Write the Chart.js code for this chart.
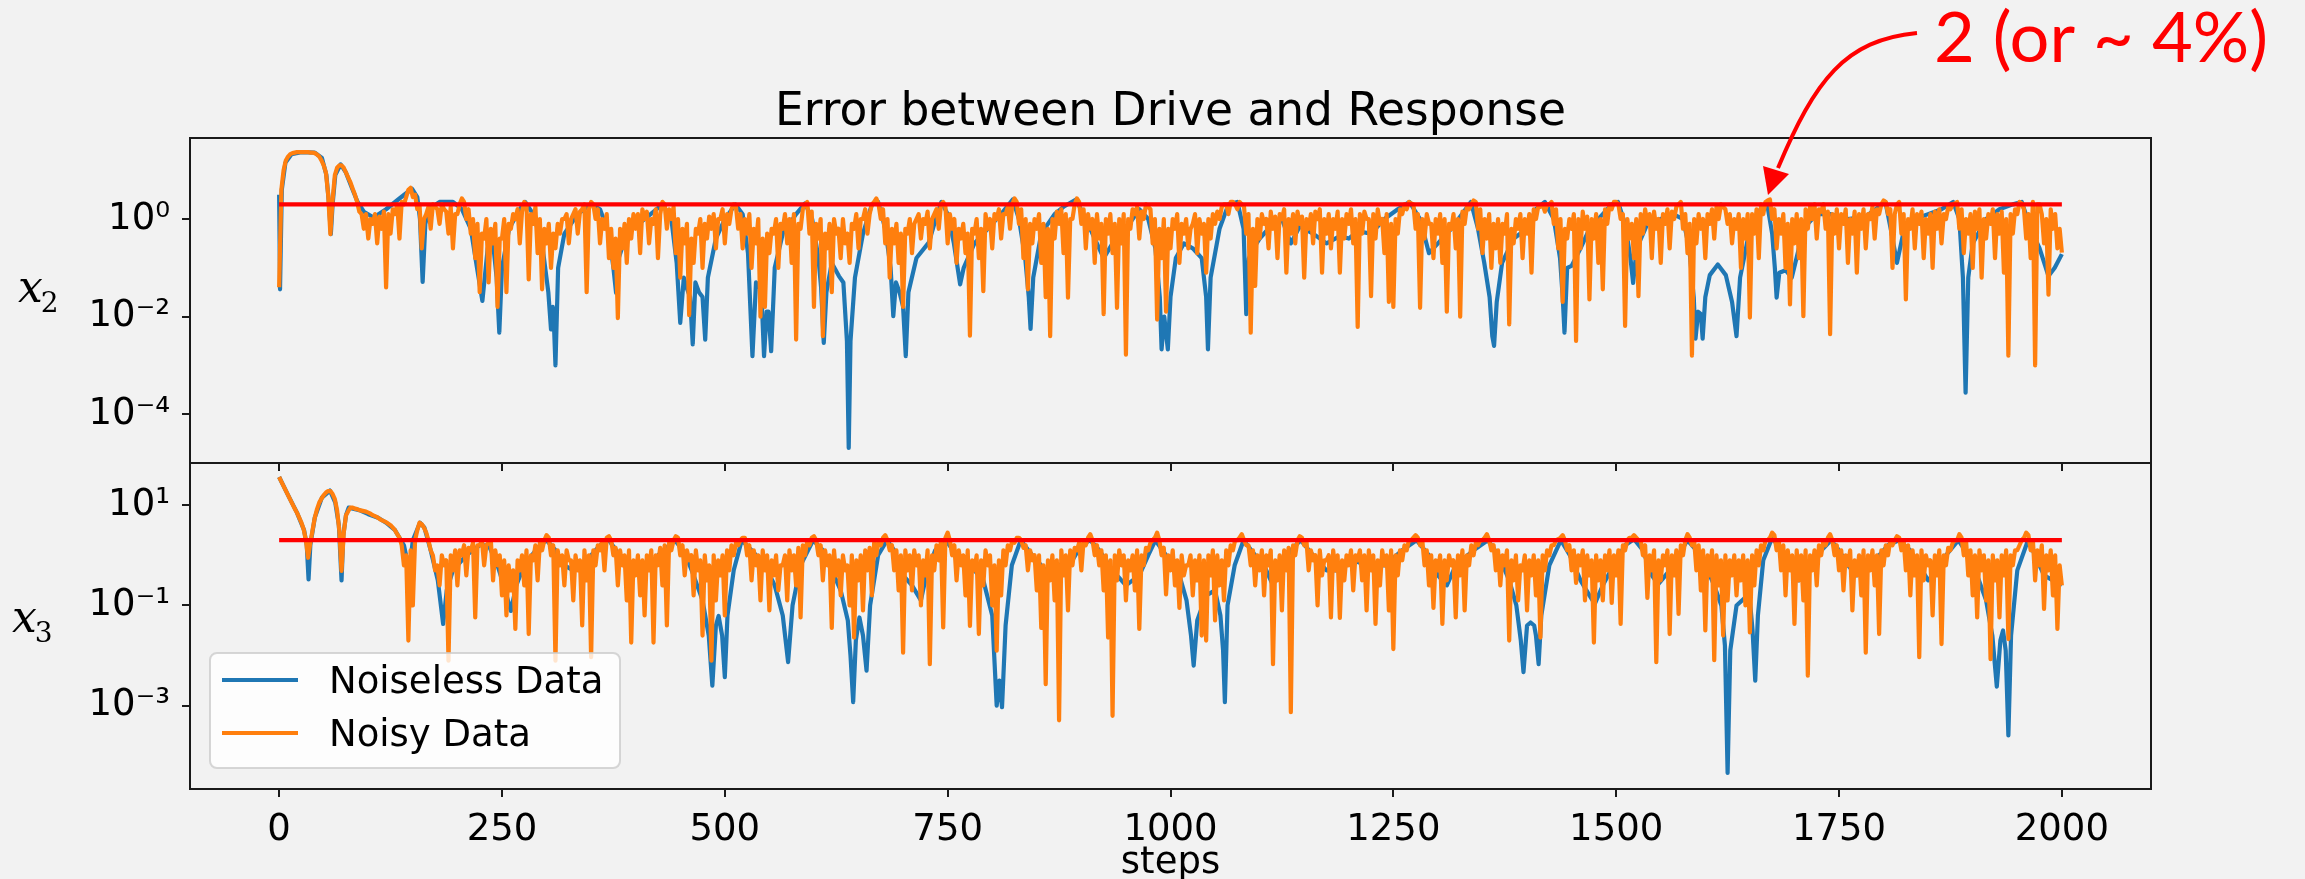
<!DOCTYPE html>
<html>
<head>
<meta charset="utf-8">
<script src="https://cdn.jsdelivr.net/npm/chart.js@4.4.1/dist/chart.umd.min.js"></script>
<style>
html, body { margin: 0; padding: 0; background: #f2f2f2; }
body { width: 2305px; height: 879px; position: relative; overflow: hidden; }
#panelTop { position: absolute; left: 0; top: 0; }
#panelBottom { position: absolute; left: 0; top: 440px; }
</style>
</head>
<body>
<canvas id="panelTop" width="2305" height="480"></canvas>
<canvas id="panelBottom" width="2305" height="439"></canvas>
<script>
// ---- DATA (stored as log10 of the error) ----
const titleText = 'Error between Drive and Response';
const xAxisLabel = 'steps';
const noteText = '2 (or ~ 4%)';
const seriesLabels = ['Noiseless Data', 'Noisy Data'];

const xTicks = [0, 250, 500, 750, 1000, 1250, 1500, 1750, 2000];
const x2TickValues = [1e-4, 1e-2, 1];
const x2TickLabels = ['10⁻⁴', '10⁻²', '10⁰'];
const x3TickValues = [1e-3, 1e-1, 10];
const x3TickLabels = ['10⁻³', '10⁻¹', '10¹'];

const thresholdSteps = [0, 2000];
const thresholdValue = 2;

// noisy series: values at steps 0, 5, ... 2000 (lower part of the band, spikes)
// and at steps 2.5, 7.5, ... 1997.5 (upper edge of the band)
const noisyEvery = 5;

const x2NoisyLog = [
  -1.4, 1.0, 1.28, 1.35, 1.37, 1.37, 1.37, 1.36, 1.35, 1.28,
  1.1, 0.5, 0.4, 1.05, 1.1, 0.95, 0.75, 0.5, 0.15, -0.2,
  -0.4, -0.1, -0.5, -0.2, -1.4, -0.3, 0.1, -0.4, 0.3, 0.6,
  0.45, 0.2, -0.6, 0.1, -0.2, 0.25, -0.1, 0.2, -0.3, -0.6,
  0.1, 0.42, 0.0, -0.3, -0.8, -1.5, -0.4, -1.3, -0.5, -1.8,
  -0.4, -1.5, -0.2, 0.0, -0.5, 0.35, -1.24, -0.1, -0.7, -1.44,
  -0.5, -1.0, -0.6, -0.3, 0.0, -0.5, 0.1, -0.3, 0.2, -1.5,
  0.35, 0.0, -0.5, -0.2, -0.8, -1.0, -2.03, -0.6, -0.9, -0.4,
  -0.2, -0.7, 0.0, -0.5, -0.1, -0.8, 0.35, -0.2, 0.0, -0.7,
  -1.2, -0.5, -1.97, -0.9, -0.3, -1.0, -0.4, -0.2, -0.6, 0.0,
  -0.5, -0.1, 0.3, -0.2, -0.6, -0.3, -1.0, -0.5, -2.0, -1.8,
  -0.7, -0.3, -1.0, -0.2, -0.5, -0.9, -2.47, -0.2, 0.3, -0.3,
  -1.8, -0.4, -2.4, -0.6, -1.5, -0.3, -0.8, -0.5, -0.9, -0.2,
  -0.6, 0.0, -0.3, 0.3, 0.42, 0.0, -0.5, -1.2, -0.5, -0.9,
  -1.8, -0.3, -0.7, 0.0, -0.4, -0.1, -0.6, 0.1, -0.2, 0.35,
  -0.5, -0.2, -0.9, -0.4, -0.7, -2.39, -0.3, -0.8, -1.48, -0.2,
  -0.6, 0.0, -0.4, 0.1, -0.2, 0.42, -0.1, -0.8, -1.44, -0.5,
  -0.2, -0.9, -1.6, -2.4, -0.4, -0.1, -0.7, -1.61, 0.0, 0.42,
  -0.1, -0.6, -0.2, -0.9, -0.4, -1.95, -0.3, -0.7, -1.82, -0.5,
  -2.78, -0.2, 0.1, -0.4, 0.0, 0.25, -0.5, -2.06, -0.8, -1.9,
  -0.6, -0.2, -0.9, -0.3, -0.6, -0.1, -0.7, -0.3, -1.1, -0.4,
  -0.1, 0.0, 0.3, 0.1, 0.35, 0.2, 0.3, -0.3, -2.33, -1.37,
  -0.4, -0.1, -0.6, -0.2, -0.8, 0.0, -1.1, -0.3, -0.5, -0.1,
  -1.2, -0.2, -0.5, 0.0, -1.1, -0.3, -0.6, -0.2, -1.1, -0.4,
  -0.1, -0.5, -2.21, -0.3, 0.0, -1.58, -0.4, -0.1, -0.7, -1.7,
  -1.8, -0.3, 0.1, 0.2, 0.32, -0.2, -1.82, -0.4, -0.1, -0.8,
  -0.3, -0.9, -1.9, -0.2, -0.6, -2.0, -0.1, 0.2, 0.38, -0.2,
  -0.7, -0.4, -1.0, -0.6, -0.9, -0.3, -2.16, -0.5, -0.2, -0.8,
  -0.3, -1.1, 0.0, 0.25, 0.15, 0.3, -0.1, -0.6, -1.7, -0.4,
  -0.2, -2.5, -0.6, -0.2, -1.65, -0.4, -0.9, -1.44, -0.1, 0.2,
  0.35, 0.0, -2.19, -0.4, -0.8, -1.58, -0.3, -0.1, -0.8, -0.2,
  -0.9, -0.1, -0.6, 0.0, 0.3, -0.2, -0.7, -2.8, -0.5, -0.2,
  -0.8, -0.1, -0.4, 0.0, 0.25, -0.1, -0.5, -0.2, -1.0, -0.4,
  -2.02, -0.3, -0.8, 0.1, 0.38, 0.0, -0.6, -0.3, -1.0, -1.75,
  -0.5, -0.8, -1.99, -0.2, 0.0, -0.4, 0.15, -0.2, -2.36, -0.3,
  -0.6, -0.1, -0.9, -0.3, -1.1, -0.2, -0.6, 0.0, -0.4, 0.1,
  0.38, 0.1, -1.0, 0.3, -0.3, -1.65, -0.2, -0.6, -0.1, -0.8,
  -0.3, -1.0, -0.2, -0.5, 0.0, 0.2, 0.32, -0.2, -0.7, -0.3,
  -1.0, -0.2, -1.2, -0.4, -0.1, -0.8, -0.3, -1.1, -2.8, -0.3,
  0.1, 0.32, -0.4, -0.8, -3.0, 0.3, -0.5, -1.55, -0.2, -0.6, -0.69
];

const x2NoisyMid = [
  0.6, 1.2, 1.33, 1.36, 1.37, 1.37, 1.37, 1.36, 1.32, 1.2,
  0.95, -0.31, 0.9, 1.1, 1.05, 0.85, 0.62, 0.35, 0.1, 0.1,
  0.0, 0.1, 0.05, 0.15, 0.1, 0.2, 0.3, 0.35, 0.45, 0.64,
  0.5, 0.3, 0.0, 0.25, 0.3, 0.2, 0.3, 0.15, 0.25, 0.1,
  0.3, 0.35, 0.2, 0.0, -0.1, -0.3, 0.0, -0.2, -0.1, -0.4,
  0.0, -0.1, 0.1, 0.2, 0.15, 0.3, 0.1, 0.25, 0.0, -0.2,
  -0.1, -0.3, -0.1, 0.0, 0.1, 0.0, 0.2, 0.15, 0.3, 0.2,
  0.3, 0.2, 0.0, 0.1, -0.2, -0.4, -0.2, -0.1, 0.0, 0.1,
  0.1, 0.2, 0.15, 0.0, 0.2, 0.1, 0.3, 0.2, 0.25, 0.0,
  -0.2, -0.1, -0.4, -0.2, 0.0, -0.1, 0.05, 0.1, 0.0, 0.2,
  0.1, 0.2, 0.25, 0.1, 0.0, 0.1, -0.2, 0.0, -0.4, -0.3,
  -0.2, 0.0, -0.1, 0.1, 0.0, 0.1, -0.1, 0.2, 0.35, 0.15,
  -0.1, 0.0, -0.3, -0.1, 0.0, -0.2, 0.0, -0.3, -0.1, 0.1,
  0.0, 0.2, 0.1, 0.35, 0.3, 0.2, 0.0, -0.2, -0.1, -0.3,
  -0.2, 0.0, -0.1, 0.1, 0.0, 0.15, 0.0, 0.2, 0.3, 0.25,
  0.1, 0.0, -0.2, -0.1, -0.3, -0.2, 0.0, -0.2, 0.1, 0.0,
  0.1, 0.2, 0.1, 0.25, 0.3, 0.35, 0.2, 0.0, -0.1, 0.0,
  0.1, -0.1, -0.2, 0.0, 0.15, 0.2, 0.1, 0.0, 0.3, 0.35,
  0.2, 0.1, 0.0, 0.1, -0.1, 0.0, 0.1, -0.1, 0.0, 0.1,
  0.0, 0.2, 0.25, 0.15, 0.3, 0.2, 0.0, -0.2, 0.0, -0.2,
  0.0, 0.1, -0.1, 0.0, -0.2, 0.1, 0.0, -0.1, 0.0, 0.1,
  0.15, 0.25, 0.3, 0.35, 0.3, 0.35, 0.25, 0.1, -0.2, 0.0,
  0.1, 0.0, 0.15, 0.05, 0.1, 0.2, 0.0, 0.1, 0.15, 0.05,
  0.0, 0.1, 0.15, 0.2, 0.0, 0.1, 0.0, 0.15, 0.0, 0.1,
  0.2, 0.0, 0.1, 0.15, 0.0, 0.1, 0.2, 0.0, 0.1, -0.1,
  0.0, 0.2, 0.3, 0.35, 0.3, 0.1, 0.0, 0.1, -0.1, 0.0,
  0.1, 0.0, -0.1, 0.1, 0.0, 0.15, 0.25, 0.3, 0.35, 0.2,
  0.0, 0.1, -0.1, 0.0, -0.1, 0.1, -0.2, 0.0, 0.1, 0.0,
  0.1, 0.2, 0.25, 0.3, 0.3, 0.35, 0.2, 0.0, -0.2, 0.0,
  0.1, 0.0, 0.15, 0.05, 0.0, 0.1, 0.0, 0.2, 0.3, 0.35,
  0.3, 0.1, 0.0, -0.1, 0.0, 0.1, 0.2, 0.1, 0.15, 0.0,
  0.1, 0.2, 0.15, 0.25, 0.35, 0.1, -0.1, 0.0, 0.1, 0.0,
  0.1, 0.2, 0.25, 0.3, 0.2, 0.1, 0.0, 0.1, 0.0, 0.1,
  0.1, 0.2, 0.3, 0.35, 0.4, 0.2, 0.0, 0.1, -0.1, 0.0,
  0.1, 0.0, 0.2, 0.25, 0.3, 0.2, 0.3, 0.15, 0.1, 0.2,
  0.1, 0.2, 0.0, 0.15, 0.1, 0.2, 0.1, 0.25, 0.2, 0.3,
  0.35, 0.2, 0.1, 0.35, 0.1, 0.0, 0.2, 0.1, 0.15, 0.0,
  0.1, 0.15, 0.2, 0.1, 0.25, 0.3, 0.35, 0.2, 0.0, 0.1,
  0.15, 0.2, 0.0, 0.1, 0.2, 0.1, 0.15, 0.0, 0.1, 0.2,
  0.35, 0.2, 0.1, 0.35, 0.3, 0.1, 0.0, 0.2, 0.1, -0.2
];

const x3NoisyLog = [
  1.56, 1.38, 1.2, 1.02, 0.85, 0.65, 0.3, 0.25, 0.75, 1.05,
  1.2, 1.28, 1.22, 0.9, -0.31, 0.8, 0.95, 0.93, 0.9, 0.88,
  0.85, 0.8, 0.76, 0.7, 0.66, 0.6, 0.5, 0.35, -0.2, -1.7,
  -1.0, 0.5, 0.62, 0.45, 0.1, -0.3, -0.6, -0.2, -2.1, -0.3,
  -0.6, 0.0, -0.4, 0.1, -1.24, 0.2, -0.2, 0.25, -0.5, -0.2,
  -0.8, -1.2, -0.7, -1.47, -0.3, -0.6, -1.57, -0.1, -0.5, 0.1,
  0.4, 0.0, -2.1, -0.2, -0.6, -0.1, -0.9, -0.3, -1.4, -0.5,
  -2.03, -0.2, 0.1, -0.3, 0.38, 0.0, -0.6, -0.2, -0.9, -1.74,
  -0.4, -0.8, -1.2, -0.3, -1.74, -0.2, -0.6, -1.4, 0.1, 0.38,
  0.0, -0.4, -0.1, -0.8, -0.3, -1.6, -0.5, -2.1, -0.9, -0.4,
  -1.2, -0.3, 0.0, 0.2, 0.35, 0.0, -0.5, -0.2, -0.9, -0.3,
  -1.1, -0.4, -0.7, -0.2, -0.9, -0.3, -0.6, -1.24, 0.0, 0.2,
  0.38, 0.0, -0.5, -0.2, -1.45, -0.4, -0.8, -0.3, -1.0, -1.64,
  -0.5, -1.1, -0.3, -0.8, 0.0, 0.2, 0.4, 0.1, -0.3, -0.7,
  -1.94, -0.3, -0.7, -0.2, -1.0, -0.4, -2.17, -0.3, -0.1, -1.44,
  0.45, 0.0, -0.5, -0.2, -0.8, -1.41, -0.3, -1.57, -0.6, -0.2,
  -1.0, -1.9, -0.8, -0.2, 0.1, 0.25, 0.35, 0.15, -0.3, -0.1,
  -0.7, -1.45, -2.57, -0.5, -0.9, -3.29, -0.4, -1.1, -0.2, 0.1,
  -0.3, 0.2, 0.42, 0.0, -0.2, -0.7, -1.64, -3.2, -0.5, -0.2,
  -0.9, -0.3, -0.7, -1.47, -0.2, 0.1, 0.3, 0.45, 0.0, -0.78,
  -0.3, -0.6, -1.05, -0.4, -0.2, -0.8, -0.5, -1.6, -1.7, -0.4,
  -1.3, -0.6, -0.9, -0.2, 0.1, 0.3, 0.42, 0.2, -0.2, -0.6,
  -0.3, -0.8, -0.2, -2.17, -0.5, -1.1, -0.3, -3.13, 0.0, 0.38,
  0.2, -0.3, -0.1, -1.0, -0.4, -0.1, -1.24, -0.3, -1.25, -0.5,
  -0.2, -0.7, -0.1, -0.5, -1.1, -0.3, -1.37, -0.6, -0.2, -1.1,
  -1.87, -0.4, -0.1, 0.1, 0.3, 0.4, 0.2, -0.2, -0.6, -1.05,
  -0.3, -1.37, -0.5, -0.2, -1.24, -0.4, -1.1, -0.2, 0.0, 0.2,
  0.3, 0.42, 0.1, -0.3, -0.6, -0.2, -1.7, -0.5, -0.9, -0.3,
  -1.1, -0.4, -0.8, -1.64, -0.3, 0.0, 0.2, 0.32, 0.4, 0.1,
  -0.3, -0.55, -0.2, -0.9, -0.4, -1.74, -0.5, -0.9, -0.3, -0.95,
  -0.4, -1.37, 0.1, 0.35, 0.4, 0.3, 0.0, -0.85, -0.3, -2.13,
  -0.5, -0.2, -1.57, -0.4, -1.17, 0.0, 0.42, 0.2, -0.3, -0.7,
  -1.5, -0.4, -2.09, -0.6, -1.6, -0.9, -0.4, -0.8, -0.5, -1.0,
  -1.54, -0.6, -0.2, 0.1, 0.3, 0.45, 0.1, -0.3, -0.8, -0.3,
  -1.37, -0.5, -0.9, -2.4, -0.3, -0.6, 0.0, 0.2, 0.42, 0.0,
  -0.3, -0.7, -0.2, -1.1, -0.4, -0.8, -1.94, -0.3, -0.6, -1.57,
  -0.2, 0.0, 0.2, 0.38, 0.1, -0.3, -0.8, -0.4, -2.03, -0.5,
  -0.2, -1.2, -0.4, -1.77, -0.2, 0.1, 0.3, 0.42, 0.0, -0.4,
  -0.8, -1.24, -0.3, -0.9, -2.07, -0.5, -1.24, -0.4, -1.67, -0.2,
  0.1, 0.3, 0.45, 0.1, -0.5, -0.2, -1.07, -0.3, -0.8, -1.47, -0.6
];

const x3NoisyMid = [
  1.47, 1.29, 1.11, 0.93, 0.75, 0.52, -0.05, 0.5, 0.92, 1.13,
  1.25, 1.28, 1.12, 0.5, 0.45, 0.88, 0.95, 0.92, 0.89, 0.87,
  0.83, 0.78, 0.73, 0.68, 0.63, 0.55, 0.42, 0.2, 0.0, 0.1,
  0.3, 0.65, 0.55, 0.3, 0.0, -0.2, 0.0, -0.1, 0.0, 0.1,
  0.1, 0.2, 0.15, 0.25, 0.2, 0.3, 0.2, 0.3, 0.1, 0.0,
  -0.1, -0.2, -0.3, -0.1, 0.0, 0.1, 0.0, 0.2, 0.25, 0.3,
  0.35, 0.2, 0.1, 0.0, 0.1, -0.1, 0.0, -0.1, 0.1, 0.0,
  0.1, 0.2, 0.3, 0.35, 0.3, 0.15, 0.1, 0.0, 0.1, -0.1,
  0.0, -0.1, 0.0, 0.1, 0.0, 0.15, 0.2, 0.25, 0.3, 0.35,
  0.2, 0.1, 0.0, 0.1, -0.1, 0.0, -0.2, 0.0, -0.1, 0.0,
  0.1, 0.2, 0.25, 0.3, 0.35, 0.2, 0.1, 0.0, 0.1, 0.0,
  -0.1, 0.0, -0.2, 0.0, 0.1, 0.0, 0.15, 0.2, 0.3, 0.35,
  0.3, 0.2, 0.1, 0.0, 0.1, -0.1, 0.0, -0.2, 0.0, -0.1,
  0.0, 0.1, 0.15, 0.25, 0.3, 0.35, 0.3, 0.2, 0.1, 0.0,
  0.1, 0.0, 0.1, 0.0, -0.1, 0.1, 0.0, 0.2, 0.3, 0.35,
  0.3, 0.2, 0.1, 0.0, 0.1, -0.1, 0.0, -0.1, 0.1, 0.0,
  -0.2, -0.1, 0.1, 0.2, 0.3, 0.35, 0.3, 0.2, 0.1, 0.0,
  0.0, -0.2, -0.1, 0.0, -0.1, 0.1, 0.0, 0.1, 0.15, 0.25,
  0.3, 0.35, 0.3, 0.2, 0.1, 0.0, -0.1, 0.0, 0.1, 0.0,
  -0.1, 0.0, 0.1, 0.0, 0.15, 0.25, 0.35, 0.3, 0.15, 0.0,
  0.1, -0.1, 0.0, -0.2, 0.0, -0.1, 0.0, -0.1, 0.0, 0.1,
  0.0, -0.1, 0.1, 0.2, 0.3, 0.35, 0.3, 0.2, 0.1, 0.0,
  0.1, 0.0, 0.1, -0.1, 0.0, 0.1, 0.15, 0.2, 0.3, 0.35,
  0.3, 0.1, 0.0, 0.1, -0.1, 0.0, 0.1, 0.0, -0.1, 0.0,
  0.1, 0.0, 0.1, 0.0, 0.1, 0.0, -0.1, 0.1, 0.0, 0.1,
  0.0, 0.1, 0.2, 0.3, 0.35, 0.35, 0.3, 0.1, 0.0, -0.1,
  0.0, -0.1, 0.0, -0.1, 0.0, 0.1, 0.0, 0.2, 0.25, 0.3,
  0.35, 0.3, 0.2, 0.1, 0.0, 0.1, -0.1, 0.0, -0.2, 0.0,
  -0.1, 0.0, -0.1, 0.0, 0.1, 0.2, 0.3, 0.35, 0.3, 0.2,
  0.1, 0.0, 0.1, 0.0, -0.1, 0.0, -0.1, 0.0, 0.1, 0.0,
  0.1, 0.2, 0.3, 0.35, 0.35, 0.3, 0.2, 0.0, 0.1, -0.1,
  0.0, 0.1, 0.0, 0.1, 0.2, 0.3, 0.35, 0.3, 0.2, 0.1,
  0.0, 0.1, 0.0, -0.1, 0.0, -0.1, 0.0, -0.1, 0.0, -0.1,
  0.0, 0.1, 0.2, 0.3, 0.35, 0.4, 0.3, 0.2, 0.1, 0.0,
  0.1, 0.0, 0.1, 0.0, 0.1, 0.2, 0.3, 0.35, 0.3, 0.2,
  0.1, 0.0, 0.1, -0.1, 0.0, 0.1, 0.0, 0.1, 0.0, 0.1,
  0.2, 0.3, 0.3, 0.35, 0.3, 0.2, 0.1, 0.0, 0.1, 0.0,
  -0.1, 0.0, 0.1, 0.0, 0.15, 0.25, 0.3, 0.35, 0.3, 0.1,
  0.0, 0.1, 0.0, -0.1, 0.0, -0.1, 0.0, 0.1, 0.0, 0.1,
  0.2, 0.35, 0.4, 0.3, 0.1, 0.2, 0.0, 0.1, 0.0, -0.2
];

// noiseless series: [step, log10 error] at the turning points of the curve
const x2CleanPts = [
  [0,0.5],[1,-1.44],[3,0.6],[7,1.15],[14,1.33],[25,1.37],[40,1.36],[48,1.25],[53,0.9],[56,0.3],
  [58,-0.31],[60,0.3],[63,0.9],[69,1.12],[75,0.95],[82,0.62],[88,0.35],[95,0.15],[106,0.03],[120,0.2],
  [135,0.42],[149,0.62],[155,0.45],[158,0.0],[161,-1.29],[164,-0.1],[168,0.2],[180,0.35],[195,0.35],[205,0.2],
  [215,-0.2],[222,-1.0],[228,-1.68],[234,-0.6],[240,-0.5],[244,-1.2],[247,-2.33],[250,-1.0],[258,-0.2],[270,0.2],
  [276,0.35],[285,0.1],[295,-0.5],[302,-1.5],[305,-2.26],[307,-1.8],[308,-2.0],[310,-3.0],[313,-1.0],[320,-0.3],
  [335,0.1],[350,0.3],[360,0.2],[370,-0.3],[375,-1.0],[378,-1.51],[381,-0.8],[390,-0.3],[410,0.0],[430,0.3],
  [440,0.0],[446,-0.9],[450,-2.13],[454,-1.2],[457,-1.4],[461,-1.6],[464,-2.57],[467,-1.3],[471,-1.5],[475,-1.6],
  [478,-2.47],[481,-1.2],[490,-0.4],[500,0.0],[512,0.3],[520,0.1],[526,-0.7],[531,-2.81],[535,-1.3],[538,-1.35],
  [541,-1.5],[544,-2.81],[547,-1.9],[549,-1.9],[552,-2.71],[556,-1.0],[565,-0.3],[580,0.1],[590,0.32],[598,0.0],
  [605,-0.8],[608,-1.4],[611,-2.54],[614,-1.5],[620,-0.9],[628,-1.17],[633,-1.3],[637,-2.5],[639,-4.69],[641,-2.5],
  [646,-1.2],[655,-0.3],[665,0.3],[672,0.35],[680,-0.2],[686,-1.0],[689,-1.99],[692,-1.3],[696,-1.5],[700,-1.8],
  [703,-2.81],[706,-1.5],[715,-0.8],[729,-0.48],[735,-0.1],[743,0.35],[750,0.1],[757,-0.5],[762,-1.1],[764,-1.34],
  [768,-1.0],[780,-0.5],[795,-0.2],[810,0.1],[823,0.4],[830,0.0],[837,-0.8],[841,-1.6],[843,-2.25],[846,-1.2],
  [855,-0.3],[870,0.1],[880,0.25],[894,0.4],[905,0.0],[915,-0.4],[925,-0.8],[935,-0.5],[950,-0.2],[965,0.2],
  [975,0.0],[983,-0.6],[988,-1.6],[990,-2.67],[993,-2.0],[997,-2.67],[1000,-1.6],[1006,-0.8],[1015,-0.5],[1025,-0.6],
  [1035,-0.8],[1040,-1.6],[1042,-2.67],[1045,-1.2],[1055,-0.2],[1065,0.3],[1075,0.35],[1082,-0.2],[1085,-1.95],[1088,-0.8],
  [1093,-0.6],[1100,-0.4],[1110,-0.2],[1125,0.0],[1135,-0.5],[1145,-0.15],[1160,-0.3],[1175,-0.5],[1190,-0.35],[1200,-0.4],
  [1210,-0.25],[1225,-0.3],[1240,0.0],[1255,0.2],[1268,0.35],[1280,0.0],[1290,-0.7],[1300,-0.5],[1315,-0.2],[1337,0.35],
  [1345,-0.2],[1352,-0.9],[1358,-1.6],[1361,-2.4],[1363,-2.6],[1366,-1.7],[1372,-0.9],[1385,-0.4],[1400,-0.2],[1410,0.2],
  [1420,0.35],[1430,0.0],[1437,-0.8],[1440,-1.6],[1442,-2.33],[1445,-1.0],[1450,-0.96],[1460,-0.6],[1470,-0.2],[1485,0.1],
  [1495,0.3],[1502,0.35],[1510,-0.1],[1516,-0.8],[1519,-1.31],[1523,-0.6],[1535,-0.1],[1550,0.0],[1564,0.1],[1575,0.0],
  [1582,-0.6],[1587,-1.6],[1589,-2.45],[1592,-1.9],[1595,-1.95],[1597,-2.45],[1600,-1.6],[1605,-1.15],[1614,-0.93],[1623,-1.15],
  [1630,-1.7],[1635,-2.4],[1639,-1.2],[1650,-0.2],[1660,0.15],[1669,0.35],[1675,-0.3],[1678,-1.0],[1680,-1.61],[1683,-1.1],
  [1690,-1.05],[1697,-1.2],[1705,-0.6],[1715,-0.1],[1725,0.1],[1740,0.1],[1760,0.0],[1780,0.05],[1795,0.25],[1802,0.35],
  [1808,-0.2],[1815,-0.9],[1822,-0.3],[1835,0.0],[1850,0.1],[1865,0.2],[1878,0.35],[1885,0.0],[1889,-1.2],[1892,-3.56],
  [1895,-1.2],[1900,-0.5],[1915,0.0],[1930,0.2],[1945,0.3],[1955,0.35],[1965,-0.2],[1975,-0.6],[1985,-1.17],[1992,-1.0],
  [2000,-0.72]
];

const x3CleanPts = [
  [0,1.56],[10,1.2],[20,0.85],[28,0.5],[31,0.2],[33,-0.48],[35,0.2],[40,0.75],[48,1.15],[57,1.29],
  [63,1.05],[67,0.6],[70,-0.5],[72,0.4],[75,0.8],[78,0.95],[90,0.9],[100,0.82],[111,0.75],[120,0.65],
  [130,0.5],[140,0.2],[146,-0.3],[150,0.3],[158,0.65],[163,0.55],[170,0.1],[178,-0.5],[184,-1.37],[188,-0.7],
  [195,-0.3],[210,0.0],[225,0.2],[235,0.2],[245,-0.2],[252,-0.6],[260,-1.11],[266,-0.6],[275,-0.2],[290,0.15],
  [300,0.3],[310,0.1],[320,-0.2],[330,-0.3],[345,-0.1],[360,0.2],[370,0.3],[380,0.05],[390,-0.2],[400,-0.35],
  [410,-0.3],[425,0.0],[444,0.3],[455,0.05],[465,-0.4],[475,-0.9],[482,-1.6],[486,-2.6],[490,-1.4],[493,-1.21],
  [497,-1.6],[500,-2.43],[503,-1.2],[510,-0.3],[519,0.3],[530,0.1],[545,-0.2],[556,-0.6],[565,-1.2],[571,-2.13],
  [576,-1.0],[585,-0.2],[599,0.3],[610,0.1],[620,-0.3],[630,-0.7],[638,-1.3],[641,-2.0],[644,-2.93],[647,-1.7],
  [651,-1.24],[655,-1.6],[659,-2.3],[663,-1.0],[672,0.0],[682,0.3],[690,0.1],[700,-0.4],[710,-0.6],[720,-0.9],
  [726,-0.4],[736,0.1],[748,0.3],[760,0.0],[775,-0.2],[790,-0.5],[800,-1.2],[805,-3.0],[808,-2.5],[811,-3.03],
  [815,-1.4],[822,-0.2],[832,0.3],[845,0.0],[860,-0.3],[875,-0.2],[890,-0.1],[900,0.2],[910,0.3],[920,0.1],
  [935,-0.3],[950,-0.6],[965,-0.4],[975,0.0],[983,0.3],[995,0.0],[1010,-0.4],[1018,-0.9],[1023,-1.6],[1026,-2.2],
  [1030,-1.3],[1040,-0.8],[1050,-0.7],[1056,-1.2],[1059,-1.9],[1061,-2.93],[1064,-1.0],[1072,-0.2],[1082,0.3],[1095,0.0],
  [1105,-0.2],[1115,-0.6],[1122,-0.3],[1135,0.1],[1146,0.3],[1160,0.0],[1175,-0.3],[1190,-0.3],[1205,-0.1],[1220,-0.2],
  [1240,-0.2],[1260,0.1],[1276,0.3],[1290,0.0],[1300,-0.4],[1310,-0.6],[1320,-0.2],[1340,0.1],[1356,0.3],[1368,0.0],
  [1380,-0.5],[1388,-1.0],[1393,-1.7],[1396,-2.33],[1400,-1.4],[1404,-1.34],[1408,-1.4],[1410,-1.6],[1413,-2.17],[1416,-1.2],
  [1425,-0.2],[1438,0.3],[1448,0.0],[1460,-0.5],[1470,-0.8],[1476,-0.97],[1485,-0.6],[1500,-0.1],[1510,0.2],[1520,0.32],
  [1530,0.1],[1540,-0.4],[1547,-0.58],[1560,-0.3],[1570,0.0],[1580,0.3],[1590,0.1],[1600,-0.2],[1610,-0.6],[1618,-1.0],
  [1622,-1.8],[1625,-4.34],[1628,-1.9],[1635,-1.0],[1645,-0.84],[1650,-0.9],[1653,-1.5],[1656,-2.5],[1659,-1.2],[1665,-0.1],
  [1675,0.35],[1685,0.1],[1695,-0.2],[1705,-0.5],[1715,-0.3],[1725,0.0],[1741,0.3],[1750,0.1],[1760,-0.2],[1770,-0.4],
  [1780,-0.2],[1795,0.0],[1805,0.2],[1817,0.3],[1830,0.1],[1840,-0.2],[1850,-0.5],[1860,-0.3],[1870,0.0],[1884,0.3],
  [1895,0.0],[1905,-0.4],[1915,-0.9],[1922,-1.6],[1927,-2.62],[1931,-1.7],[1934,-1.5],[1937,-1.9],[1940,-3.59],[1943,-1.6],
  [1950,-0.3],[1962,0.3],[1970,0.0],[1980,-0.4],[1990,-0.5],[2000,-0.6]
];

// ---- LOOK ----
const BLUE = '#1f77b4';
const ORANGE = '#ff7f0e';
const RED = '#ff0000';
const INK = '#000000';
const TICK_FONT = { family: 'DejaVu Sans', size: 37 };
const LINE_W = 4.2;

// put the band's lower values (on the 5-step grid) and upper values (half way between) in step order
function noisyPoints(onGrid, between) {
  const pts = [];
  onGrid.forEach((v, i) => {
    pts.push({ x: i * noisyEvery, y: Math.pow(10, v) });
    if (i < between.length) {
      pts.push({ x: i * noisyEvery + noisyEvery / 2, y: Math.pow(10, between[i]) });
    }
  });
  return pts;
}
function pairPoints(pairs) {
  return pairs.map(p => ({ x: p[0], y: Math.pow(10, p[1]) }));
}

// box round each axes, like matplotlib spines
const framePlugin = {
  id: 'frame',
  afterDraw(chart) {
    const a = chart.chartArea;
    const ctx = chart.ctx;
    ctx.save();
    ctx.strokeStyle = '#1a1a1a';
    ctx.lineWidth = 2;
    ctx.strokeRect(a.left, a.top, a.right - a.left, a.bottom - a.top);
    ctx.restore();
  }
};

function drawVarLabel(ctx, sub, left, baseline) {
  ctx.save();
  ctx.fillStyle = INK;
  ctx.textAlign = 'left';
  ctx.textBaseline = 'alphabetic';
  ctx.font = 'italic 44px "DejaVu Serif"';
  ctx.fillText('x', left, baseline);
  const w = ctx.measureText('x').width;
  ctx.font = '28px "DejaVu Serif"';
  ctx.fillText(sub, left + w - 2, baseline + 10);
  ctx.restore();
}

const topTextPlugin = {
  id: 'topText',
  afterDraw(chart) {
    const ctx = chart.ctx;
    const a = chart.chartArea;
    ctx.save();
    ctx.fillStyle = INK;
    ctx.font = '45.5px "DejaVu Sans"';
    ctx.textAlign = 'center';
    ctx.textBaseline = 'alphabetic';
    ctx.fillText(titleText, (a.left + a.right) / 2, 125);
    ctx.restore();

    drawVarLabel(ctx, '2', 18, 302);

    // red note with curved arrow
    ctx.save();
    ctx.fillStyle = RED;
    ctx.strokeStyle = RED;
    ctx.font = '60px Lato';
    const size = 60 * 334 / ctx.measureText(noteText).width;
    ctx.font = size.toFixed(1) + 'px Lato';
    ctx.textAlign = 'left';
    ctx.textBaseline = 'alphabetic';
    ctx.fillText(noteText, 1934, 62);

    ctx.lineWidth = 4;
    ctx.beginPath();
    ctx.moveTo(1917, 33);
    ctx.bezierCurveTo(1845, 40, 1815, 80, 1778, 168);
    ctx.stroke();
    ctx.beginPath();
    ctx.moveTo(1768, 195);
    ctx.lineTo(1763, 166);
    ctx.lineTo(1789, 174);
    ctx.closePath();
    ctx.fill();
    ctx.restore();
  }
};

const bottomTextPlugin = {
  id: 'bottomText',
  afterDraw(chart) {
    const ctx = chart.ctx;
    const a = chart.chartArea;
    drawVarLabel(ctx, '3', 12, 632 - 440);

    // legend box in the lower left corner
    const bx = a.left + 20, by = a.bottom - 136, bw = 410, bh = 115, r = 7;
    ctx.save();
    ctx.beginPath();
    ctx.moveTo(bx + r, by);
    ctx.arcTo(bx + bw, by, bx + bw, by + bh, r);
    ctx.arcTo(bx + bw, by + bh, bx, by + bh, r);
    ctx.arcTo(bx, by + bh, bx, by, r);
    ctx.arcTo(bx, by, bx + bw, by, r);
    ctx.closePath();
    ctx.fillStyle = 'rgba(255,255,255,0.8)';
    ctx.fill();
    ctx.strokeStyle = 'rgba(204,204,204,0.8)';
    ctx.lineWidth = 2;
    ctx.stroke();

    const colors = [BLUE, ORANGE];
    ctx.font = '37px "DejaVu Sans"';
    ctx.textAlign = 'left';
    ctx.textBaseline = 'alphabetic';
    for (let i = 0; i < seriesLabels.length; i++) {
      const ly = by + 27 + i * 53;
      ctx.strokeStyle = colors[i];
      ctx.lineWidth = LINE_W;
      ctx.beginPath();
      ctx.moveTo(bx + 12, ly);
      ctx.lineTo(bx + 88, ly);
      ctx.stroke();
      ctx.fillStyle = INK;
      ctx.fillText(seriesLabels[i], bx + 119, ly + 13);
    }
    ctx.restore();
  }
};

function makePanel(canvasId, cleanPts, noisyLog, noisyMid, yLo, yHi, tickVals, tickLabels, isBottom, padding, xHeight, plugin) {
  const ctx = document.getElementById(canvasId).getContext('2d');
  return new Chart(ctx, {
    type: 'line',
    data: {
      datasets: [
        {
          label: 'threshold',
          data: thresholdSteps.map(s => ({ x: s, y: thresholdValue })),
          borderColor: RED, borderWidth: LINE_W, pointRadius: 0, order: 0
        },
        {
          label: seriesLabels[1],
          data: noisyPoints(noisyLog, noisyMid),
          borderColor: ORANGE, borderWidth: LINE_W, pointRadius: 0, order: 1
        },
        {
          label: seriesLabels[0],
          data: pairPoints(cleanPts),
          borderColor: BLUE, borderWidth: LINE_W, pointRadius: 0, order: 2
        }
      ]
    },
    options: {
      responsive: false,
      animation: false,
      events: [],
      layout: { padding: padding },
      elements: { line: { tension: 0, borderJoinStyle: 'round', fill: false } },
      plugins: {
        legend: { display: false },
        tooltip: { enabled: false },
        title: { display: false }
      },
      scales: {
        x: {
          type: 'linear',
          min: -100,
          max: 2100,
          afterBuildTicks: s => { s.ticks = xTicks.map(v => ({ value: v })); },
          afterFit: s => {
            s.height = xHeight;
            s.paddingLeft = 0; s.paddingRight = 0;
          },
          grid: { drawOnChartArea: false, drawTicks: true, tickLength: 8, color: '#1a1a1a', lineWidth: 2 },
          border: { display: false },
          ticks: {
            display: isBottom,
            autoSkip: false,
            maxRotation: 0,
            padding: 11,
            color: INK,
            font: TICK_FONT,
            callback: v => String(v)
          },
          title: {
            display: isBottom,
            text: xAxisLabel,
            color: INK,
            font: TICK_FONT,
            padding: { top: 0, bottom: -7 }
          }
        },
        y: {
          type: 'logarithmic',
          min: Math.pow(10, yLo),
          max: Math.pow(10, yHi),
          afterBuildTicks: s => { s.ticks = tickVals.map(v => ({ value: v })); },
          afterFit: s => {
            s.width = 190;
            s.paddingTop = 0; s.paddingBottom = 0;
          },
          grid: { drawOnChartArea: false, drawTicks: true, tickLength: 8, color: '#1a1a1a', lineWidth: 2 },
          border: { display: false },
          ticks: {
            autoSkip: false,
            padding: 12,
            color: INK,
            font: TICK_FONT,
            callback: (v, i) => tickLabels[i]
          }
        }
      }
    },
    plugins: [framePlugin, plugin]
  });
}

makePanel('panelTop', x2CleanPts, x2NoisyLog, x2NoisyMid, -5.0, 1.66, x2TickValues, x2TickLabels, false,
  { left: 0, right: 154, top: 138, bottom: 0 }, 17, topTextPlugin);
makePanel('panelBottom', x3CleanPts, x3NoisyLog, x3NoisyMid, -4.66, 1.84, x3TickValues, x3TickLabels, true,
  { left: 0, right: 154, top: 23, bottom: 0 }, 90, bottomTextPlugin);
</script>
</body>
</html>
